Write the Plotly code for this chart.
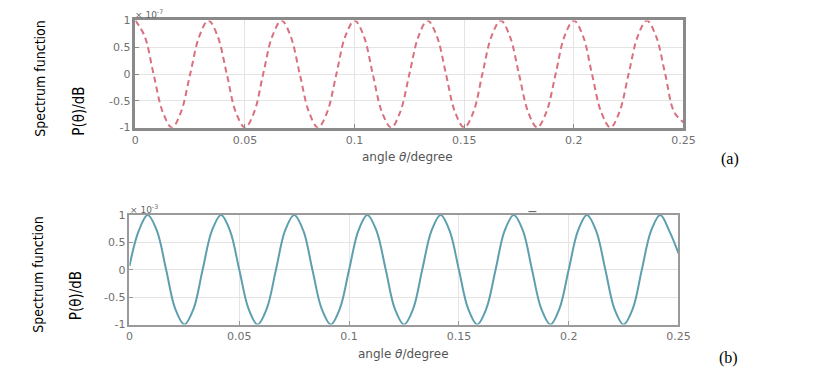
import plotly.graph_objects as go

# angle (degree) sample positions (1/8 period steps)
angle = [0, 0.0042, 0.0083, 0.0125, 0.0167, 0.0208, 0.025, 0.0292, 0.0333, 0.0375,
         0.0417, 0.0458, 0.05, 0.0542, 0.0583, 0.0625, 0.0667, 0.0708, 0.075, 0.0792,
         0.0833, 0.0875, 0.0917, 0.0958, 0.1, 0.1042, 0.1083, 0.1125, 0.1167, 0.1208,
         0.125, 0.1292, 0.1333, 0.1375, 0.1417, 0.1458, 0.15, 0.1542, 0.1583, 0.1625,
         0.1667, 0.1708, 0.175, 0.1792, 0.1833, 0.1875, 0.1917, 0.1958, 0.2, 0.2042,
         0.2083, 0.2125, 0.2167, 0.2208, 0.225, 0.2292, 0.2333, 0.2375, 0.2417, 0.2458,
         0.25]

# panel (a): values in units of 1e-7
spec_a = [1, 0.71, 0, -0.71, -1, -0.71, 0, 0.71,
          1, 0.71, 0, -0.71, -1, -0.71, 0, 0.71,
          1, 0.71, 0, -0.71, -1, -0.71, 0, 0.71,
          1, 0.71, 0, -0.71, -1, -0.71, 0, 0.71,
          1, 0.71, 0, -0.71, -1, -0.71, 0, 0.71,
          1, 0.71, 0, -0.71, -1, -0.71, 0, 0.71,
          1, 0.71, 0, -0.71, -1, -0.71, 0, 0.71,
          1, 0.71, 0, -0.71, -0.9]

# panel (b): values in units of 1e-3
spec_b = [0.07, 0.71, 1, 0.71, 0, -0.71, -1, -0.71,
          0, 0.71, 1, 0.71, 0, -0.71, -1, -0.71,
          0, 0.71, 1, 0.71, 0, -0.71, -1, -0.71,
          0, 0.71, 1, 0.71, 0, -0.71, -1, -0.71,
          0, 0.71, 1, 0.71, 0, -0.71, -1, -0.71,
          0, 0.71, 1, 0.71, 0, -0.71, -1, -0.71,
          0, 0.71, 1, 0.71, 0, -0.71, -1, -0.71,
          0, 0.71, 1, 0.71, 0.3]

x_ticks = [0, 0.05, 0.1, 0.15, 0.2, 0.25]
x_ticktext = ["0", "0.05", "0.1", "0.15", "0.2", "0.25"]
y_ticks = [-1, -0.5, 0, 0.5, 1]
y_ticktext = ["-1", "-0.5", "0", "0.5", "1"]

W, H = 815, 375
fig = go.Figure()
fig.add_trace(go.Scatter(x=angle, y=spec_a, mode="lines", xaxis="x", yaxis="y",
                         line=dict(color="#d9707f", width=2, dash="6px,4px",
                                   shape="spline", smoothing=1.0),
                         showlegend=False, hoverinfo="skip"))
fig.add_trace(go.Scatter(x=angle, y=spec_b, mode="lines", xaxis="x2", yaxis="y2",
                         line=dict(color="#5d9fae", width=2,
                                   shape="spline", smoothing=1.0),
                         showlegend=False, hoverinfo="skip"))

tickfont = dict(family="DejaVu Sans", size=11, color="#707070")

def xax(domain, anchor, linew, linec):
    return dict(domain=domain, anchor=anchor, range=[0, 0.25], tickvals=x_ticks,
                ticktext=x_ticktext, showgrid=True, gridcolor="#e4e4e4", gridwidth=1,
                showline=True, linecolor=linec, linewidth=linew, mirror=True,
                ticks="inside", ticklen=4, tickcolor=linec, tickfont=tickfont,
                zeroline=False, fixedrange=True)

def yax(domain, anchor, linew, linec):
    return dict(domain=domain, anchor=anchor, range=[-1, 1], tickvals=y_ticks,
                ticktext=y_ticktext, showgrid=True, gridcolor="#e4e4e4", gridwidth=1,
                showline=True, linecolor=linec, linewidth=linew, mirror=True,
                ticks="inside", ticklen=4, tickcolor=linec, tickfont=tickfont,
                zeroline=False, fixedrange=True)

fig.update_layout(
    width=W, height=H, margin=dict(l=0, r=0, t=0, b=0),
    paper_bgcolor="white", plot_bgcolor="white",
    xaxis=xax([134 / W, 693 / W], "y", 2.5, "#8a8a8a"),
    yaxis=yax([1 - 126 / H, 1 - 15 / H], "x", 2.5, "#8a8a8a"),
    xaxis2=xax([128 / W, 688 / W], "y2", 1.5, "#9a9a9a"),
    yaxis2=yax([1 - 330 / H, 1 - 216.5 / H], "x2", 1.5, "#9a9a9a"),
)

def ann(text, x, y, size, color="black", family="Liberation Sans", angle=0):
    fig.add_annotation(text=text, x=x / W, y=1 - y / H, xref="paper", yref="paper",
                       showarrow=False, textangle=angle, xanchor="center", yanchor="middle",
                       font=dict(family=family, size=size, color=color))

cond = "DejaVu Sans Condensed, Liberation Sans Narrow, Liberation Sans"
# y titles
ann("Spectrum function", 37, 75, 14, family=cond, angle=-90)
ann("P(θ)/dB", 77, 109, 15, family=cond, angle=-90)
ann("Spectrum function", 35, 278, 14, family=cond, angle=-90)
ann("P(θ)/dB", 73, 300, 15, family=cond, angle=-90)

# x titles
ann("angle <i>θ</i>/degree", 412, 156, 12, color="#555555", family="DejaVu Sans")
ann("angle <i>θ</i>/degree", 407, 360, 12, color="#555555", family="DejaVu Sans")

# exponent labels
ann("× 10<sup>-7</sup>", 148, 8, 9, color="#666666", family="DejaVu Sans")
ann("× 10<sup>-3</sup>", 143, 210, 9, color="#666666", family="DejaVu Sans")

# panel labels
ann("(a)", 741, 158, 16, family="Liberation Serif")
ann("(b)", 739, 365, 16, family="Liberation Serif")

# small stray dash above panel (b)
fig.add_shape(type="line", xref="paper", yref="paper",
              x0=535 / W, x1=543 / W, y0=1 - 213 / H, y1=1 - 213 / H,
              line=dict(color="#555555", width=1))

fig.write_html("out.html")
